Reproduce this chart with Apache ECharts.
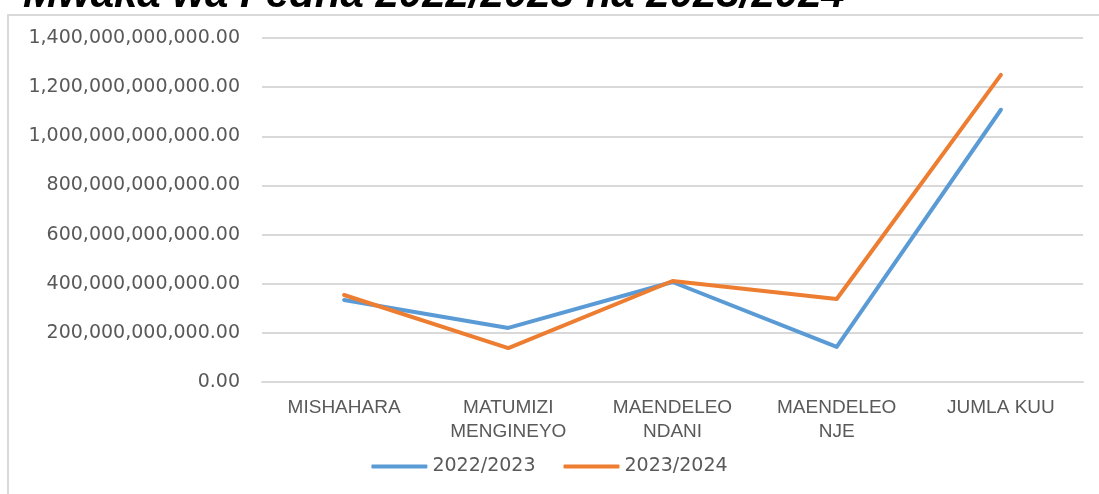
<!DOCTYPE html>
<html>
<head>
<meta charset="utf-8">
<script src="https://cdn.jsdelivr.net/npm/echarts@6/dist/echarts.min.js"></script>
<style>
  html, body { margin: 0; padding: 0; background: #fff; }
  #chart { width: 1099px; height: 494px; }
</style>
</head>
<body>
<div id="chart"></div>
<script>
// categories and values (in shillings)
var categories = ["MISHAHARA", "MATUMIZI\nMENGINEYO", "MAENDELEO\nNDANI", "MAENDELEO\nNJE", "JUMLA KUU"];
var year1 = [334e9, 220e9, 407e9, 143e9, 1108e9];
var year2 = [354e9, 138e9, 411e9, 338e9, 1250e9];
var seriesNames = ["2022/2023", "2023/2024"];
var titleText = "Mwaka wa Fedha 2022/2023 na 2023/2024";

function fmt(v) {
  var s = Math.round(v).toString().replace(/\B(?=(\d{3})+(?!\d))/g, ",");
  return s + ".00";
}

var myChart = echarts.init(document.getElementById("chart"));

myChart.setOption({
  animation: false,
  title: {
    text: titleText,
    left: 18,
    top: -31,
    textStyle: {
      fontFamily: "Liberation Sans",
      fontSize: 42,
      fontWeight: "bold",
      fontStyle: "italic",
      color: "#000"
    }
  },
  graphic: [
    {
      type: "polyline",
      shape: { points: [[8, 494], [8, 15], [1099, 15]] },
      style: { stroke: "#d9d9d9", lineWidth: 2, fill: null }
    }
  ],
  legend: {
    data: seriesNames,
    bottom: 13,
    left: "center",
    itemWidth: 56,
    itemHeight: 4,
    itemGap: 28,
    icon: "roundRect",
    textStyle: { color: "#595959", fontSize: 19, fontFamily: "DejaVu Sans" }
  },
  grid: {
    left: 262,
    right: 16,
    top: 38,
    bottom: 112
  },
  xAxis: {
    type: "category",
    data: categories,
    boundaryGap: true,
    axisLine: { lineStyle: { color: "#d9d9d9", width: 2 } },
    axisTick: { show: false },
    axisLabel: {
      color: "#595959",
      fontSize: 19,
      fontFamily: "Liberation Sans",
      lineHeight: 24,
      margin: 14
    }
  },
  yAxis: {
    type: "value",
    min: 0,
    max: 1400e9,
    interval: 200e9,
    axisLine: { show: false },
    axisTick: { show: false },
    splitLine: { lineStyle: { color: "#d9d9d9", width: 2 } },
    axisLabel: {
      color: "#595959",
      fontSize: 19,
      fontFamily: "DejaVu Sans",
      margin: 22,
      formatter: fmt
    }
  },
  series: [
    {
      name: seriesNames[0],
      type: "line",
      data: year1,
      symbol: "none",
      lineStyle: { color: "#5b9bd5", width: 4, cap: "round", join: "round" },
      itemStyle: { color: "#5b9bd5" }
    },
    {
      name: seriesNames[1],
      type: "line",
      data: year2,
      symbol: "none",
      lineStyle: { color: "#ed7d31", width: 4, cap: "round", join: "round" },
      itemStyle: { color: "#ed7d31" }
    }
  ]
});
</script>
</body>
</html>
